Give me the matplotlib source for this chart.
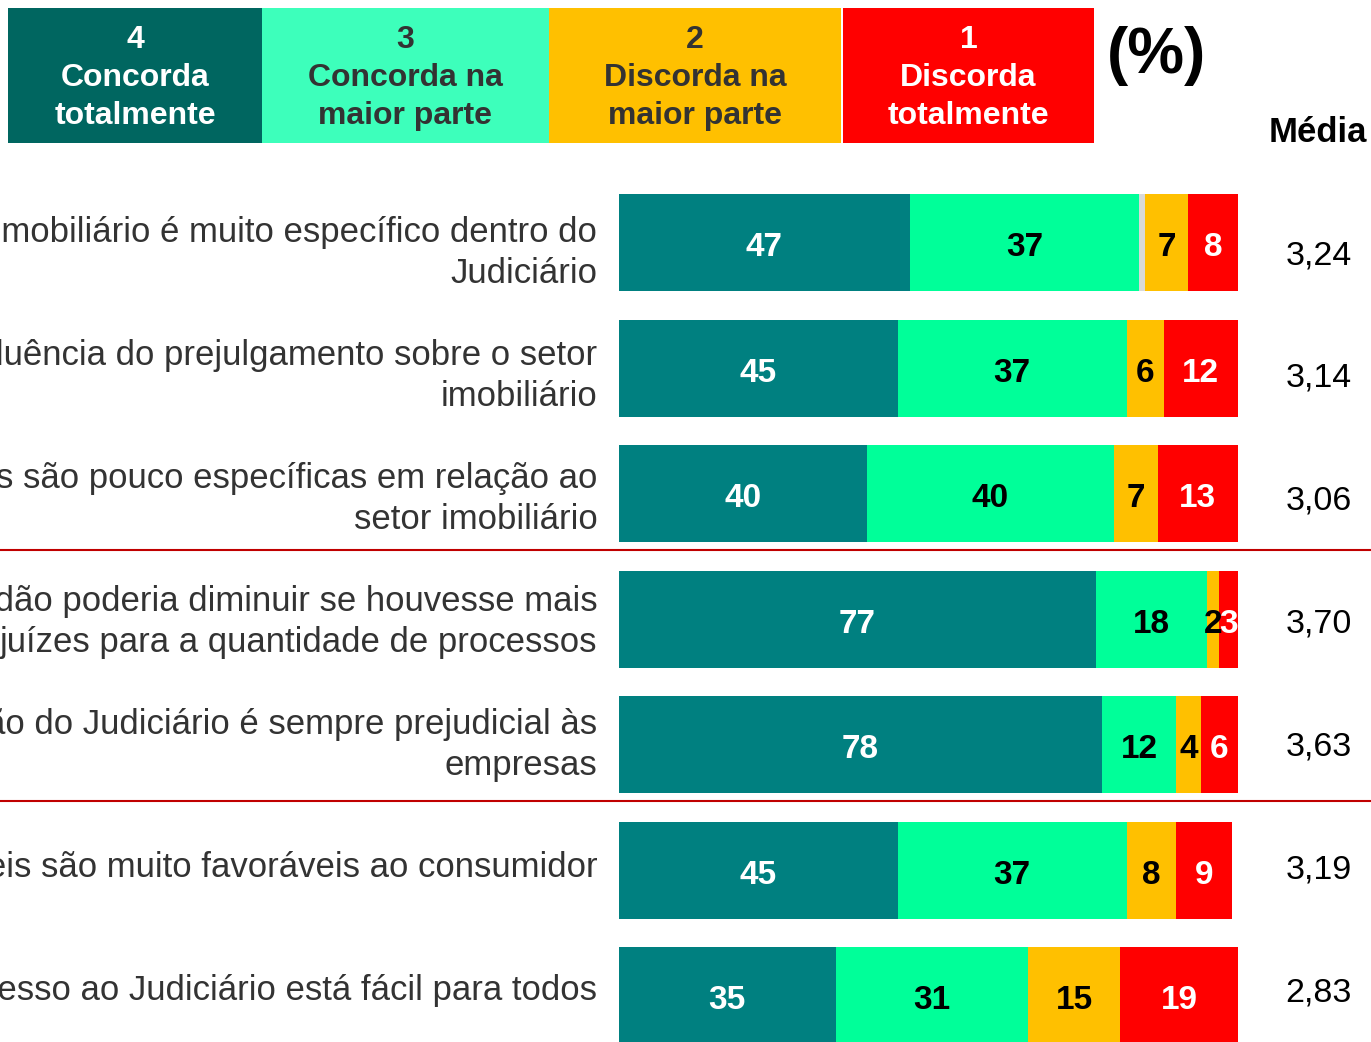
import matplotlib
matplotlib.use("Agg")
import matplotlib.pyplot as plt
from matplotlib.patches import Rectangle
from matplotlib.lines import Line2D
from matplotlib.transforms import blended_transform_factory

plt.rcParams['font.family'] = ['Liberation Sans', 'DejaVu Sans']

statements = [
    "O setor imobiliário é muito específico dentro do\nJudiciário",
    "Há influência do prejulgamento sobre o setor\nimobiliário",
    "As leis são pouco específicas em relação ao\nsetor imobiliário",
    "A lentidão poderia diminuir se houvesse mais\njuízes para a quantidade de processos",
    "A lentidão do Judiciário é sempre prejudicial às\nempresas",
    "As leis são muito favoráveis ao consumidor",
    "O acesso ao Judiciário está fácil para todos",
]
concorda_total = [47, 45, 40, 77, 78, 45, 35]
concorda_maior = [37, 37, 40, 18, 12, 37, 31]
sem_resposta = [1, 0, 0, 0, 0, 0, 0]
discorda_maior = [7, 6, 7, 2, 4, 8, 15]
discorda_total = [8, 12, 13, 3, 6, 9, 19]
medias = ["3,24", "3,14", "3,06", "3,70", "3,63", "3,19", "2,83"]

legend_nums = ["4", "3", "2", "1"]
legend_names = ["Concorda\ntotalmente", "Concorda na\nmaior parte",
                "Discorda na\nmaior parte", "Discorda\ntotalmente"]

bar_colors = ["#008080", "#00FF99", "#D9D9D9", "#FFC000", "#FF0000"]
label_colors = ["white", "black", None, "black", "white"]
legend_colors = ["#006660", "#3DFFBB", "#FFC000", "#FF0000"]
legend_text = ["white", "#333333", "#333333", "white"]

W, H = 1371, 1042
fig = plt.figure(figsize=(W / 100, H / 100), dpi=100)

# main bar axes
ax = fig.add_axes([619 / W, 0, (1238 - 619) / W, 882 / H])
ax.set_xlim(0, 100)
ax.set_ylim(6.367, -0.661)
ax.axis('off')

series = [concorda_total, concorda_maior, sem_resposta, discorda_maior, discorda_total]
rows = list(range(len(statements)))
left = [0] * len(rows)
for vals, col, tcol in zip(series, bar_colors, label_colors):
    bars = ax.barh(rows, vals, left=left, height=0.773, color=col, edgecolor='none')
    if tcol is not None:
        for b, v in zip(bars, vals):
            if v > 0:
                ax.text(b.get_x() + b.get_width() / 2, b.get_y() + b.get_height() / 2 + 0.04,
                        str(v), ha='center', va='center', color=tcol,
                        fontsize=24, fontweight='bold', clip_on=False)
    left = [l + v for l, v in zip(left, vals)]

for i, s in enumerate(statements):
    off = 0.08 - 0.02 * i
    ax.text(-3.5, i + off, s, ha='right', va='center', fontsize=25, color='#333333',
            linespacing=1.32, clip_on=False)
    ax.text(113, i + off + 0.02, medias[i], ha='center', va='center', fontsize=24.5,
            color='black', clip_on=False)

# separators
tr = blended_transform_factory(fig.transFigure, ax.transData)
for y in [2.445, 4.445]:
    fig.add_artist(Line2D([0, 1], [y, y], transform=tr, color='#C00000', lw=1.5))

# header
hx = fig.add_axes([0, 0, 1, 1], zorder=-1)
hx.set_xlim(0, W)
hx.set_ylim(H, 0)
hx.axis('off')
edges = [8, 262, 549, 843, 1094]
for k in range(4):
    x0, x1 = edges[k], edges[k + 1]
    if k == 2:
        x1 -= 2
    hx.add_patch(Rectangle((x0, 8), x1 - x0, 135, color=legend_colors[k], lw=0))
    hx.text((x0 + x1) / 2, 78, legend_nums[k] + "\n" + legend_names[k], ha='center',
            va='center', fontsize=23, fontweight='bold', color=legend_text[k],
            linespacing=1.34)
hx.text(1156, 56, "(%)", ha='center', va='center', fontsize=46, fontweight='bold')
hx.text(1318, 133, "Média", ha='center', va='center', fontsize=25, fontweight='bold')

fig.savefig("out.png", dpi=100)
